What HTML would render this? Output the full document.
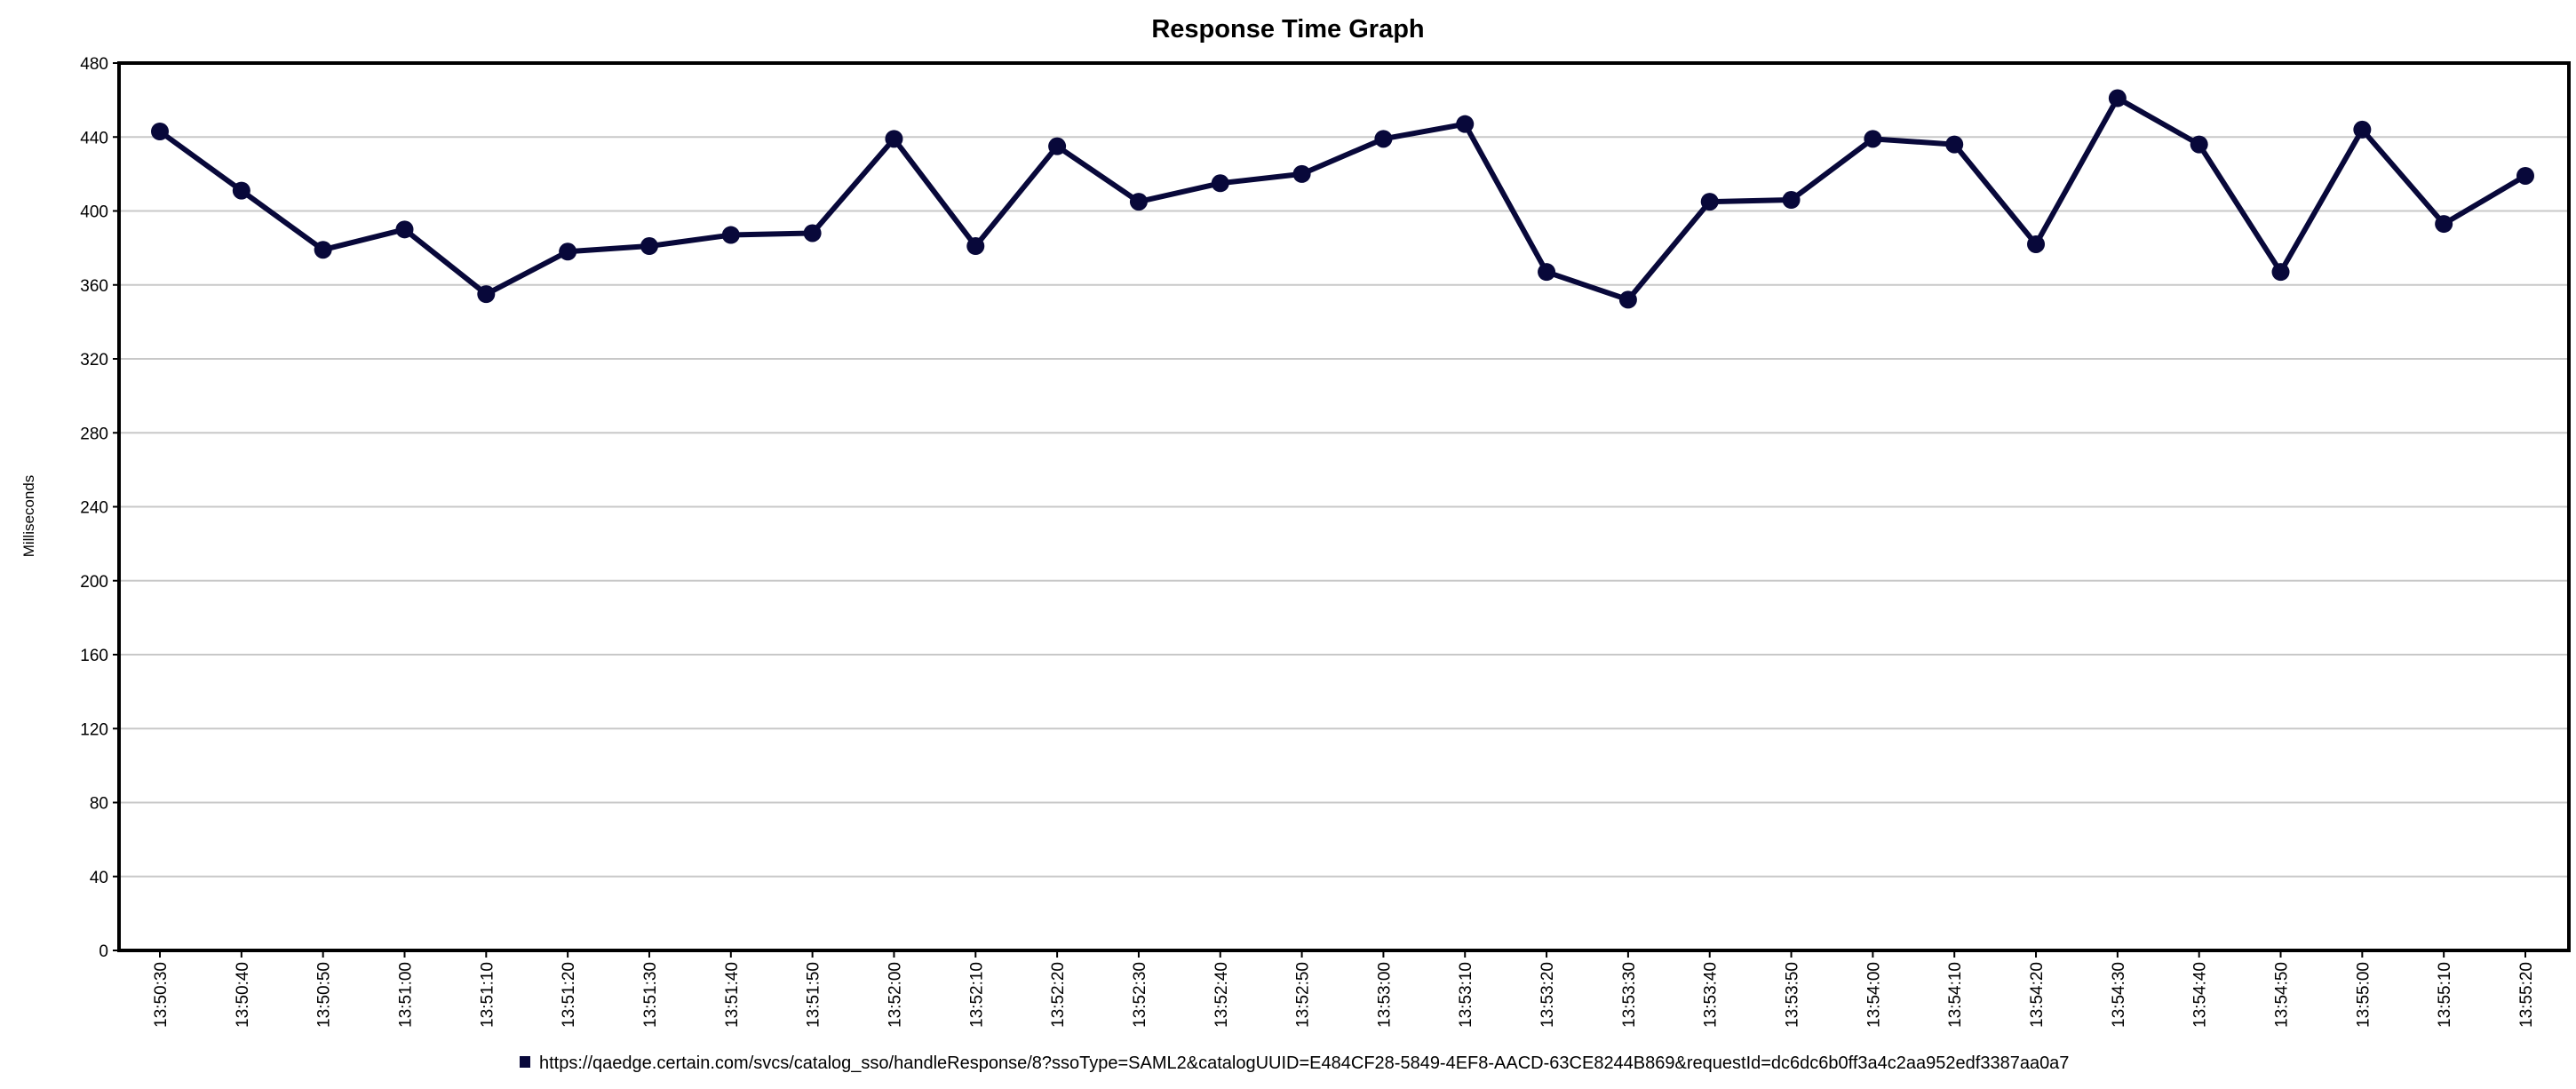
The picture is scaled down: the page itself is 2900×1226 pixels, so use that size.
<!DOCTYPE html>
<html><head><meta charset="utf-8"><style>
html,body{margin:0;padding:0;background:#fff;}
svg{display:block;font-family:"Liberation Sans",Arial,sans-serif;}
</style></head><body>
<svg id="chart" width="2900" height="1226" viewBox="0 0 2900 1226" xmlns="http://www.w3.org/2000/svg">
<text x="1450" y="42" text-anchor="middle" font-size="29" font-weight="bold" fill="#000">Response Time Graph</text>
<text transform="translate(38,581) rotate(-90)" text-anchor="middle" font-size="17" fill="#000">Milliseconds</text>
<g id="grid"></g><g id="yticks"></g><g id="xticks"></g><g id="series"></g>
<rect x="134" y="71" width="2758" height="999" fill="none" stroke="#000" stroke-width="4"/>
<rect x="585" y="1189" width="12" height="13" fill="#08083a"/>
<text x="607" y="1203" font-size="20" fill="#000">https://qaedge.certain.com/svcs/catalog_sso/handleResponse/8?ssoType=SAML2&amp;catalogUUID=E484CF28-5849-4EF8-AACD-63CE8244B869&amp;requestId=dc6dc6b0ff3a4c2aa952edf3387aa0a7</text>
</svg>
<script>
const categories = ["13:50:30","13:50:40","13:50:50","13:51:00","13:51:10","13:51:20","13:51:30","13:51:40","13:51:50","13:52:00","13:52:10","13:52:20","13:52:30","13:52:40","13:52:50","13:53:00","13:53:10","13:53:20","13:53:30","13:53:40","13:53:50","13:54:00","13:54:10","13:54:20","13:54:30","13:54:40","13:54:50","13:55:00","13:55:10","13:55:20"];
const values = [443,411,379,390,355,378,381,387,388,439,381,435,405,415,420,439,447,367,352,405,406,439,436,382,461,436,367,444,393,419];
const yTicks = [0,40,80,120,160,200,240,280,320,360,400,440,480];
const NS="http://www.w3.org/2000/svg";
const L=134,R=2892,T=71,B=1070,yMax=480;
const x0=180,dx=(2843-180)/29;
function xs(i){return x0+i*dx;}
function ys(v){return B-(v/yMax)*(B-T);}
function mk(tag,attrs,parent){const e=document.createElementNS(NS,tag);for(const k in attrs)e.setAttribute(k,attrs[k]);parent.appendChild(e);return e;}
const grid=document.getElementById('grid'),yt=document.getElementById('yticks'),xt=document.getElementById('xticks'),se=document.getElementById('series');
yTicks.forEach(v=>{const y=ys(v);
 if(v>0&&v<yMax){const g=mk('line',{x1:L,x2:R,y1:y,y2:y,stroke:'#c8c8c8','stroke-width':2},grid);
 
 }
 mk('line',{x1:L-7,x2:L,y1:y,y2:y,stroke:'#000','stroke-width':2},yt);
 const t=mk('text',{x:L-12,y:y+7,'text-anchor':'end','font-size':19,fill:'#000'},yt);t.textContent=v;
 
 
});
categories.forEach((c,i)=>{const x=xs(i);
 mk('line',{x1:x,x2:x,y1:B,y2:B+8,stroke:'#000','stroke-width':2},xt);
 const t=mk('text',{transform:`translate(${x+7},${B+13}) rotate(-90)`,'text-anchor':'end','font-size':19,fill:'#000'},xt);t.textContent=c;
 
 
});
const pts=values.map((v,i)=>xs(i)+','+ys(v)).join(' ');
const pl=mk('polyline',{points:pts,fill:'none',stroke:'#08083a','stroke-width':6,'stroke-linejoin':'round'},se);


values.forEach((v,i)=>{const c=mk('circle',{cx:xs(i),cy:ys(v),r:10,fill:'#08083a'},se);
 
 
});
</script>
</body></html>
